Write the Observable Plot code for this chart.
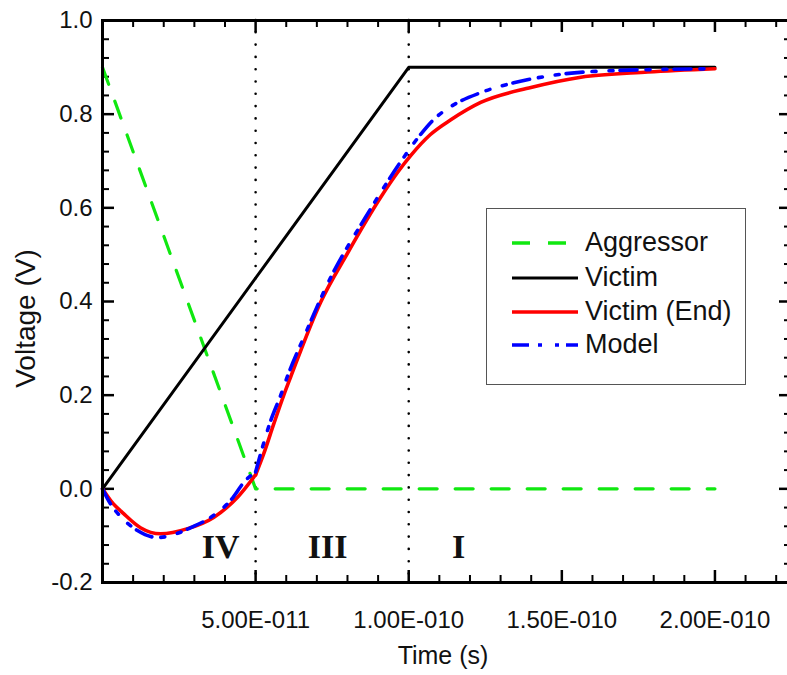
<!DOCTYPE html>
<html><head><meta charset="utf-8">
<script src="https://cdn.jsdelivr.net/npm/d3@7"></script>
<script src="https://cdn.jsdelivr.net/npm/@observablehq/plot@0.6"></script>
<style>
html,body{margin:0;padding:0;background:#fff;overflow:hidden;}
#wrap{position:relative;width:787px;height:675px;overflow:hidden;}
#chart svg{max-width:none !important;}
#legend{position:absolute;left:486px;top:208px;width:260px;height:177px;border:1.5px solid #555;box-sizing:border-box;background:#fff;font-family:"Liberation Sans",Arial,sans-serif;font-size:27px;color:#111;}
.row{position:absolute;left:0;height:34px;display:flex;align-items:center;white-space:nowrap;}
.row svg{margin-left:24px;margin-right:6px;}
</style></head>
<body><div id="wrap"><div id="chart"></div><div id="legend"></div></div>
<script>
// ---- data (time in seconds, voltage in volts) ----
const timeAgg = [0, 5.0e-11, 2.0e-10];
const voltAgg = [0.9, 0.0, 0.0];

const timeVictim = [0, 1.0e-10, 2.0e-10];
const voltVictim = [0.0, 0.9, 0.9];

const timeEnd = [0, 0.3e-11, 0.69e-11, 1.24e-11, 1.9e-11, 2.78e-11, 3.63e-11, 4.41e-11, 5.0e-11,
  5.26e-11, 5.59e-11, 5.92e-11, 6.14e-11, 7.12e-11, 8.0e-11, 9.08e-11, 9.64e-11, 10.07e-11, 10.7e-11,
  11.4e-11, 12.35e-11, 13.99e-11, 15.62e-11, 17.81e-11, 20.0e-11];
const voltEnd = [0, -0.028, -0.053, -0.083, -0.096, -0.085, -0.061, -0.018, 0.03,
  0.074, 0.138, 0.2, 0.238, 0.398, 0.503, 0.622, 0.676, 0.712, 0.756,
  0.789, 0.825, 0.857, 0.879, 0.89, 0.897];

const timeModel = [0, 0.26e-11, 0.65e-11, 1.14e-11, 1.8e-11, 2.45e-11, 2.88e-11, 3.53e-11, 4.18e-11,
  4.67e-11, 5.0e-11, 5.16e-11, 5.49e-11, 5.82e-11, 6.05e-11, 6.57e-11, 7.45e-11, 8.59e-11,
  9.84e-11, 10.39e-11, 10.82e-11, 11.37e-11, 12.35e-11, 13.43e-11, 15.07e-11, 16.7e-11, 20.0e-11];
const voltModel = [0, -0.032, -0.063, -0.089, -0.104, -0.095, -0.083, -0.061, -0.025,
  0.018, 0.036, 0.074, 0.145, 0.2, 0.242, 0.323, 0.451, 0.58,
  0.708, 0.757, 0.789, 0.816, 0.846, 0.867, 0.886, 0.893, 0.897];

const regionNames = ["IV", "III", "I"];
const regionTime = [3.86e-11, 7.35e-11, 1.163e-10];
const regionVolt = [-0.125, -0.125, -0.125];

const boundaryTimes = [5.0e-11, 1.0e-10];

const xMajorTicks = [0, 5.0e-11, 1.0e-10, 1.5e-10, 2.0e-10];
const xTickLabels = [5.0e-11, 1.0e-10, 1.5e-10, 2.0e-10];
const xMinorTicks = d3.range(1, 23).map(i => i * 1e-11).filter(v => Math.abs(v / 5e-11 - Math.round(v / 5e-11)) > 1e-6);
const yMajorTicks = [-0.2, 0.0, 0.2, 0.4, 0.6, 0.8, 1.0];
const yMinorTicks = d3.range(0, 31).map(i => -0.2 + i * 0.04).filter(v => Math.abs(v / 0.2 - Math.round(v / 0.2)) > 1e-6);

const seriesNames = ["Aggressor", "Victim", "Victim (End)", "Model"];
const seriesColors = ["#10e810", "#000000", "#ff0000", "#0000ff"];
const seriesDash = ["18,18", null, null, "17,9,4,13,4,7"];

// ---- build ----
const zip = (ts, vs) => ts.map((t, i) => ({t, v: vs[i]}));
// split a smooth curve at the aggressor's switching instant (kink), keeping the shared point in both parts
const splitAt = (rows, tk) => [
  ...rows.filter(r => r.t <= tk + 1e-15).map(r => ({...r, seg: 0})),
  ...rows.filter(r => r.t >= tk - 1e-15).map(r => ({...r, seg: 1}))
];
const fmtX = d => {
  const [m, e] = d.toExponential(2).split("e");
  const n = +e;
  return m + "E" + (n < 0 ? "-" : "+") + String(Math.abs(n)).padStart(3, "0");
};
const mL = 102, mR = 9, mT = 20, mB = 93, W = 800, H = 675;
const fW = W - mL - mR, fH = H - mT - mB;
const font = '"Liberation Sans", Arial, sans-serif';

const chart = Plot.plot({
  width: W, height: H,
  marginLeft: mL, marginRight: mR, marginTop: mT, marginBottom: mB,
  x: {domain: [0, 2.25e-10], axis: null},
  y: {domain: [-0.2, 1.0], axis: null},
  style: {fontFamily: font, background: "white", color: "black", maxWidth: "none"},
  marks: [
    Plot.ruleX(boundaryTimes, {x: d => d, stroke: "black", strokeWidth: 2.6, strokeDasharray: "0,12.3", strokeLinecap: "round"}),
    // inward ticks: bottom / top
    Plot.ruleX(xMajorTicks, {x: d => d, insetTop: fH - 12, strokeWidth: 2.5}),
    Plot.ruleX(xMinorTicks, {x: d => d, insetTop: fH - 7, strokeWidth: 2}),
    Plot.ruleX(xMajorTicks, {x: d => d, insetBottom: fH - 12, strokeWidth: 2.5}),
    Plot.ruleX(xMinorTicks, {x: d => d, insetBottom: fH - 7, strokeWidth: 2}),
    // inward ticks: left / right
    Plot.ruleY(yMajorTicks, {y: d => d, insetRight: fW - 12, strokeWidth: 2.5}),
    Plot.ruleY(yMinorTicks, {y: d => d, insetRight: fW - 7, strokeWidth: 2}),
    Plot.ruleY(yMajorTicks, {y: d => d, insetLeft: fW - 12, strokeWidth: 2.5}),
    Plot.ruleY(yMinorTicks, {y: d => d, insetLeft: fW - 7, strokeWidth: 2}),
    // series
    Plot.line(zip(timeAgg, voltAgg), {x: "t", y: "v", stroke: seriesColors[0], strokeWidth: 3.2, strokeDasharray: seriesDash[0]}),
    Plot.line(zip(timeVictim, voltVictim), {x: "t", y: "v", stroke: seriesColors[1], strokeWidth: 3}),
    Plot.line(splitAt(zip(timeEnd, voltEnd), 5e-11), {x: "t", y: "v", z: "seg", stroke: seriesColors[2], strokeWidth: 3.6, curve: "monotone-x", strokeLinejoin: "round"}),
    Plot.line(splitAt(zip(timeModel, voltModel), 5e-11), {x: "t", y: "v", z: "seg", stroke: seriesColors[3], strokeWidth: 3.6, strokeDasharray: seriesDash[3], curve: "monotone-x"}),
    // region labels
    Plot.text(regionNames, {x: (d, i) => regionTime[i], y: (d, i) => regionVolt[i], text: d => d,
      fontFamily: '"Liberation Serif", "Times New Roman", serif', fontWeight: "bold", fontSize: 34, fill: "#111"}),
    // tick labels
    Plot.text(xTickLabels, {x: d => d, frameAnchor: "bottom", dy: 38, text: fmtX, fontSize: 24, lineAnchor: "middle", fill: "#111"}),
    Plot.text(yMajorTicks, {y: d => d, frameAnchor: "left", dx: -10, textAnchor: "end", text: d => d.toFixed(1), fontSize: 24, fill: "#111"}),
    // axis titles
    Plot.text(["Time (s)"], {frameAnchor: "bottom", dy: 73, dx: -4, text: d => d, fontSize: 25, textAnchor: "middle", lineAnchor: "middle", fill: "#111"}),
    Plot.text(["Voltage (V)"], {frameAnchor: "left", dx: -76, dy: 17, rotate: -90, text: d => d, fontSize: 28, textAnchor: "middle", lineAnchor: "middle", fill: "#111"}),
    Plot.frame({stroke: "black", strokeWidth: 3})
  ]
});
chart.style.maxWidth = "none";
document.getElementById("chart").appendChild(chart);

// ---- legend ----
const legend = document.getElementById("legend");
const rowCenters = [35, 70, 104, 137];
seriesNames.forEach((name, i) => {
  const row = document.createElement("div");
  row.className = "row";
  row.style.top = (rowCenters[i] - 17 - 1.5) + "px";
  const ns = "http://www.w3.org/2000/svg";
  const svg = document.createElementNS(ns, "svg");
  svg.setAttribute("width", 68); svg.setAttribute("height", 10);
  const ln = document.createElementNS(ns, "line");
  ln.setAttribute("x1", 1); ln.setAttribute("x2", 67); ln.setAttribute("y1", 5); ln.setAttribute("y2", 5);
  ln.setAttribute("stroke", seriesColors[i]);
  ln.setAttribute("stroke-width", i === 1 ? 3.2 : 3.6);
  if (seriesDash[i]) ln.setAttribute("stroke-dasharray", seriesDash[i]);
  svg.appendChild(ln);
  row.appendChild(svg);
  const span = document.createElement("span");
  span.textContent = name;
  row.appendChild(span);
  legend.appendChild(row);
});
</script>
</body></html>
